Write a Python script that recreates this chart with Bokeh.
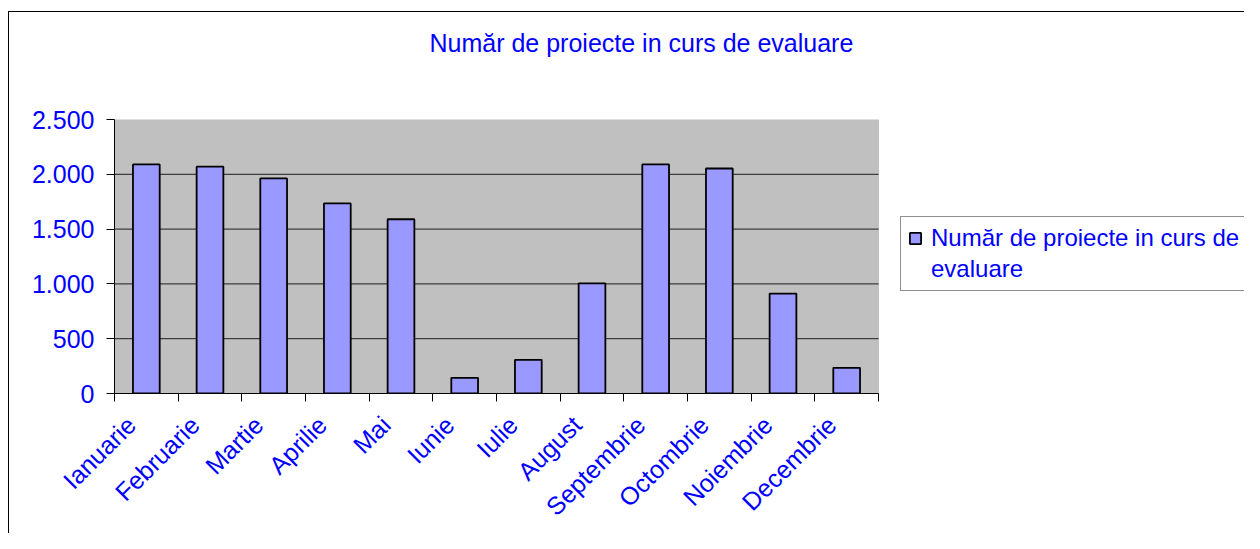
import math
from bokeh.plotting import figure
from bokeh.models import (ColumnDataSource, Range1d, FixedTicker, Legend, LegendItem,
                          Title, BoxAnnotation)
from bokeh.embed import file_html
from bokeh.resources import INLINE

# ---- data ----
months = ["Ianuarie", "Februarie", "Martie", "Aprilie", "Mai", "Iunie",
          "Iulie", "August", "Septembrie", "Octombrie", "Noiembrie", "Decembrie"]
values = [2090, 2070, 1962, 1734, 1590, 143, 307, 1004, 2090, 2053, 912, 234]
y_ticks = [0, 500, 1000, 1500, 2000, 2500]
y_tick_labels = ["0", "500", "1.000", "1.500", "2.000", "2.500"]
series_name_lines = ["Număr de proiecte in curs de", "evaluare"]
title_text = "Număr de proiecte in curs de evaluare"

FONT = "Liberation Sans"
BLUE = "#0000FF"
FS = "25px"

n = len(months)
ymax = y_ticks[-1]
xs = [i + 0.5 for i in range(n)]
label_pos = [i + 0.264 for i in range(n)]
src = ColumnDataSource(dict(x=xs, top=values, month=months))

# plot area (0..n) occupies 764 px; the frame continues to the right to hold the legend
PLOT_W = 764
FRAME_W = 1244 - 114
p = figure(width=1244, height=533, output_backend="svg", toolbar_location=None,
           x_range=Range1d(0, n * FRAME_W / PLOT_W), y_range=Range1d(0, ymax),
           min_border_left=114, min_border_top=119, min_border_right=0,
           min_border_bottom=140, tools="", title=None)
p.border_fill_alpha = 0
p.background_fill_color = "white"
p.outline_line_color = None
p.styles = {"background-color": "white",
            "box-shadow": "inset 8px 11px 0 0 white, inset 9px 12px 0 0 black"}

# spacer (first = closest to the frame) and the real title above it
spacer = Title(text=".", text_font_size="10px", text_color="white", standoff=51)
title = Title(text=title_text, text_font=FONT, text_font_size=FS,
              text_font_style="normal", text_color=BLUE, align="left",
              offset=315, standoff=0, vertical_align="top")
p.add_layout(spacer, "above")
p.add_layout(title, "above")

# grey plot area
area = BoxAnnotation(left=0, right=n, bottom=0, top=ymax, fill_color="#C0C0C0",
                     fill_alpha=1, line_color="#808080", line_width=1, level="image")
p.add_layout(area)

# horizontal grid lines inside the plot area
grid_y = y_ticks[1:-1]
p.segment(x0=[0] * len(grid_y), x1=[n] * len(grid_y), y0=grid_y, y1=grid_y,
          line_color="black", line_alpha=0.85, line_width=1, level="underlay")

r = p.vbar(x="x", top="top", width=0.42, bottom=0, source=src,
           fill_color="#9999FF", line_color="black", line_width=1.8)
# empty, invisible renderer used only for the legend's second text line
ghost = p.vbar(x=[], top=[], width=0.42, fill_alpha=0, line_alpha=0)

p.xgrid.grid_line_color = None
p.ygrid.grid_line_color = None

# y axis
p.yaxis.ticker = FixedTicker(ticks=y_ticks)
p.yaxis.major_label_overrides = dict(zip(y_ticks, y_tick_labels))
p.yaxis.major_label_text_font = FONT
p.yaxis.major_label_text_font_size = FS
p.yaxis.major_label_text_color = BLUE
p.yaxis.axis_line_color = "black"
p.yaxis.major_tick_line_color = "black"
p.yaxis.major_tick_in = 0
p.yaxis.major_tick_out = 8
p.yaxis.minor_tick_line_color = None
p.yaxis.major_label_standoff = 12

# x axis: labels near centres, ticks at boundaries
p.xaxis.bounds = (0, n)
p.xaxis.ticker = FixedTicker(ticks=label_pos, minor_ticks=list(range(n + 1)))
p.xaxis.major_label_overrides = dict(zip(label_pos, months))
p.xaxis.major_label_text_font = FONT
p.xaxis.major_label_text_font_size = FS
p.xaxis.major_label_text_color = BLUE
p.xaxis.major_label_orientation = math.pi / 4
p.xaxis.major_label_standoff = 19
p.xaxis.axis_line_color = "black"
p.xaxis.major_tick_line_color = None
p.xaxis.minor_tick_line_color = "black"
p.xaxis.minor_tick_in = 0
p.xaxis.minor_tick_out = 8

legend = Legend(items=[LegendItem(label=series_name_lines[0], renderers=[r]),
                       LegendItem(label=series_name_lines[1], renderers=[ghost])],
                location=(786, 102))
legend.label_text_font = FONT
legend.label_text_font_size = "24px"
legend.label_text_color = BLUE
legend.border_line_color = "#202020"
legend.border_line_width = 1
legend.background_fill_color = "white"
legend.background_fill_alpha = 1
legend.glyph_width = 14
legend.glyph_height = 14
legend.label_standoff = 9
legend.padding = 7
legend.spacing = 3
legend.margin = 0
p.add_layout(legend, "center")

open("out.html", "w").write(file_html(p, INLINE))
